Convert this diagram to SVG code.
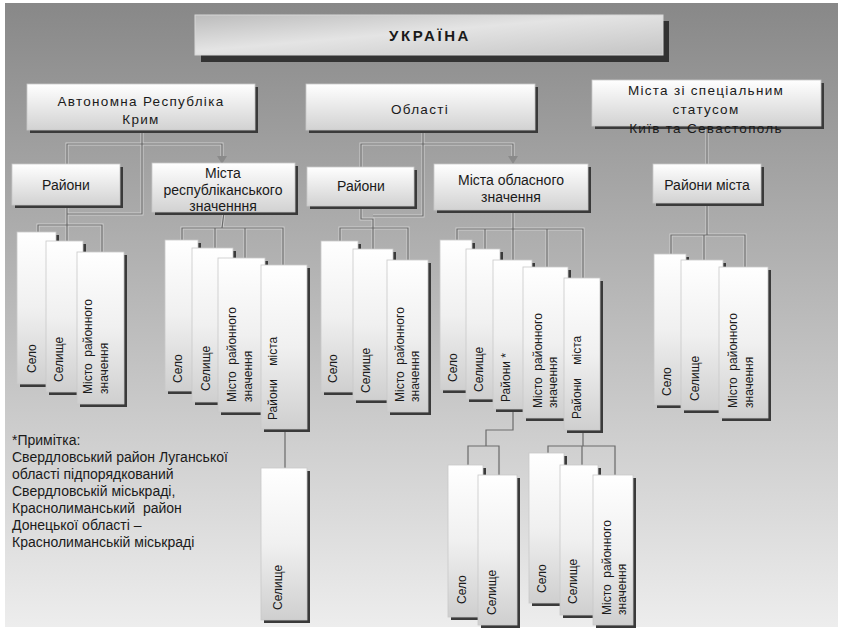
<svg xmlns="http://www.w3.org/2000/svg" width="843" height="630" viewBox="0 0 843 630">
<defs>
<linearGradient id="bg" x1="0" y1="0" x2="0" y2="1"><stop offset="0" stop-color="#888888"/><stop offset="1" stop-color="#ededed"/></linearGradient>
<linearGradient id="gbox" x1="0" y1="0" x2="0" y2="1"><stop offset="0" stop-color="#ffffff"/><stop offset="1" stop-color="#d2d2d2"/></linearGradient>
<linearGradient id="gleaf" x1="0" y1="0" x2="0" y2="1"><stop offset="0" stop-color="#ffffff"/><stop offset="0.5" stop-color="#f0f0f0"/><stop offset="1" stop-color="#cfcfcf"/></linearGradient>
<linearGradient id="gtitle" x1="0" y1="0" x2="1" y2="1"><stop offset="0" stop-color="#bcbcbc"/><stop offset="0.45" stop-color="#e4e4e4"/><stop offset="1" stop-color="#c4c4c4"/></linearGradient>
</defs>
<style>
.box{fill:url(#gbox);stroke:#c8c8c8;stroke-width:0.8}
.leaf{fill:url(#gleaf);stroke:#c8c8c8;stroke-width:0.8}
.sh{fill:#3a3a3a}
.t{font-family:"Liberation Sans",Arial,sans-serif;fill:#1a1a1a;white-space:pre}
.top{font-size:13.5px;letter-spacing:1.3px;text-anchor:middle}
.mid{font-size:14px;text-anchor:middle}
.lf{font-size:12px}
.note{font-size:14px}
.cl{fill:none;stroke:#d0d0d0;stroke-width:3}
.cd{fill:none;stroke:#6a6a6a;stroke-width:1.2}
.ar{fill:#8a8a8a}
</style>
<rect width="843" height="630" fill="#ffffff"/>
<rect x="5" y="3" width="833" height="624" fill="url(#bg)"/>

<g id="connectors">
<g class="cl">
<path d="M142,130 V214 H67"/>
<path d="M67,165 V144 H222 V158"/>
<path d="M67,205 V242"/>
<path d="M38,232 V225 H102 V252"/>
<path d="M224,212 L222,228"/>
<path d="M182,240 V228 H283 V265"/>
<path d="M215,228 V248 M245,228 V258"/>
<path d="M285,429 V468"/>
<path d="M361,167 V144 H513 V158"/>
<path d="M423,130 V216 H373"/>
<path d="M361,206 V219 H373 V249"/>
<path d="M340,241 V228 H408 V260"/>
<path d="M513,210 V260"/>
<path d="M457,240 V229 H583 V278"/>
<path d="M485,229 V249 M547,229 V267"/>
<path d="M513,409 V430 H486 V446"/>
<path d="M468,465 V446 H499 V475"/>
<path d="M583,430 V446"/>
<path d="M548,453 V446 H615 V475"/>
<path d="M582,446 V465"/>
<path d="M707,127 V164"/>
<path d="M707,203 V235"/>
<path d="M671,254 V235 H745 V267"/>
<path d="M704,235 V260"/>
</g>
<g class="cd">
<path d="M142,130 V214 H67"/>
<path d="M67,165 V144 H222 V158"/>
<path d="M67,205 V242"/>
<path d="M38,232 V225 H102 V252"/>
<path d="M224,212 L222,228"/>
<path d="M182,240 V228 H283 V265"/>
<path d="M215,228 V248 M245,228 V258"/>
<path d="M285,429 V468"/>
<path d="M361,167 V144 H513 V158"/>
<path d="M423,130 V216 H373"/>
<path d="M361,206 V219 H373 V249"/>
<path d="M340,241 V228 H408 V260"/>
<path d="M513,210 V260"/>
<path d="M457,240 V229 H583 V278"/>
<path d="M485,229 V249 M547,229 V267"/>
<path d="M513,409 V430 H486 V446"/>
<path d="M468,465 V446 H499 V475"/>
<path d="M583,430 V446"/>
<path d="M548,453 V446 H615 V475"/>
<path d="M582,446 V465"/>
<path d="M707,127 V164"/>
<path d="M707,203 V235"/>
<path d="M671,254 V235 H745 V267"/>
<path d="M704,235 V260"/>
</g>
<polygon class="ar" points="217,156 227,156 222,164"/>
<polygon class="ar" points="508,156 518,156 513,164"/>
</g>

<g id="ukraina">
<rect x="201" y="21" width="468" height="41" fill="#333333"/>
<rect x="195" y="15" width="468" height="40" fill="url(#gtitle)" stroke="#d8d8d8" stroke-width="1"/>
<text class="t" x="430" y="41" text-anchor="middle" font-size="15" font-weight="bold" letter-spacing="2.6">УКРАЇНА</text>
</g>

<g id="arc">
<rect class="sh" x="30" y="87" width="228" height="46"/>
<rect class="box" x="27" y="84" width="228" height="46"/>
<text class="t top" x="141" y="106">Автономна Республіка</text>
<text class="t top" x="141" y="124">Крим</text>
</g>
<g id="oblasti">
<rect class="sh" x="309" y="87" width="229" height="46"/>
<rect class="box" x="306" y="84" width="229" height="46"/>
<text class="t top" x="420" y="114">Області</text>
</g>
<g id="special">
<rect class="sh" x="595" y="83" width="229" height="46"/>
<rect class="box" x="592" y="80" width="229" height="46"/>
<text class="t top" x="706" y="95">Міста зі спеціальним</text>
<text class="t top" x="706" y="114">статусом</text>
<text class="t top" x="706" y="133">Київ та Севастополь</text>
</g>

<g id="raiony1">
<rect class="sh" x="15" y="167" width="108" height="41"/>
<rect class="box" x="12" y="164" width="108" height="41"/>
<text class="t mid" x="66" y="190">Райони</text>
</g>
<g id="mista-resp">
<rect class="sh" x="155" y="166" width="143" height="49"/>
<rect class="box" x="152" y="163" width="143" height="49"/>
<text class="t mid" x="223" y="178" font-size="13.5">Міста</text>
<text class="t mid" x="223" y="195" font-size="13.5">республіканського</text>
<text class="t mid" x="223" y="211" font-size="13.5">значенння</text>
</g>
<g id="raiony2">
<rect class="sh" x="310" y="170" width="107" height="39"/>
<rect class="box" x="307" y="167" width="107" height="39"/>
<text class="t mid" x="361" y="191">Райони</text>
</g>
<g id="mista-obl">
<rect class="sh" x="437" y="167" width="154" height="46"/>
<rect class="box" x="434" y="164" width="154" height="46"/>
<text class="t mid" x="511" y="185">Міста обласного</text>
<text class="t mid" x="511" y="202">значення</text>
</g>
<g id="raiony-mista3">
<rect class="sh" x="656" y="167" width="108" height="39"/>
<rect class="box" x="653" y="164" width="108" height="39"/>
<text class="t mid" x="707" y="190">Райони міста</text>
</g>

<g id="a-selo"><rect class="sh" x="20" y="235" width="39" height="152"/><rect class="leaf" x="17" y="232" width="39" height="152"/><text class="t lf" transform="translate(36,373) rotate(-90)">Село</text></g>
<g id="a-selyshche"><rect class="sh" x="49" y="244" width="37" height="151"/><rect class="leaf" x="46" y="241" width="37" height="151"/><text class="t lf" transform="translate(63,382) rotate(-90)">Селище</text></g>
<g id="a-misto"><rect class="sh" x="80" y="255" width="47" height="152"/><rect class="leaf" x="77" y="252" width="47" height="152"/><text class="t lf" transform="translate(92,394) rotate(-90)">Місто  районного<tspan x="0" dy="16">значення</tspan></text></g>

<g id="b-selo"><rect class="sh" x="168" y="243" width="33" height="151"/><rect class="leaf" x="165" y="240" width="33" height="151"/><text class="t lf" transform="translate(182,383) rotate(-90)">Село</text></g>
<g id="b-selyshche"><rect class="sh" x="195" y="251" width="41" height="154"/><rect class="leaf" x="192" y="248" width="41" height="154"/><text class="t lf" transform="translate(210,391) rotate(-90)">Селище</text></g>
<g id="b-misto"><rect class="sh" x="221" y="261" width="47" height="154"/><rect class="leaf" x="218" y="258" width="47" height="154"/><text class="t lf" transform="translate(236,402) rotate(-90)">Місто  районного<tspan x="0" dy="16">значення</tspan></text></g>
<g id="b-raiony-mista"><rect class="sh" x="264" y="268" width="46" height="164"/><rect class="leaf" x="261" y="265" width="46" height="164"/><text class="t lf" transform="translate(277,420) rotate(-90)">Райони    міста</text></g>
<g id="b-selyshche2"><rect class="sh" x="264" y="471" width="46" height="152"/><rect class="leaf" x="261" y="468" width="46" height="152"/><text class="t lf" transform="translate(282,610) rotate(-90)">Селище</text></g>

<g id="c-selo"><rect class="sh" x="324" y="244" width="37" height="151"/><rect class="leaf" x="321" y="241" width="37" height="151"/><text class="t lf" transform="translate(337,383) rotate(-90)">Село</text></g>
<g id="c-selyshche"><rect class="sh" x="356" y="252" width="40" height="151"/><rect class="leaf" x="353" y="249" width="40" height="151"/><text class="t lf" transform="translate(370,393) rotate(-90)">Селище</text></g>
<g id="c-misto"><rect class="sh" x="390" y="263" width="41" height="152"/><rect class="leaf" x="387" y="260" width="41" height="152"/><text class="t lf" transform="translate(404,402) rotate(-90)">Місто  районного<tspan x="0" dy="15">значення</tspan></text></g>

<g id="d-selo"><rect class="sh" x="443" y="243" width="32" height="150"/><rect class="leaf" x="440" y="240" width="32" height="150"/><text class="t lf" transform="translate(457,382) rotate(-90)">Село</text></g>
<g id="d-selyshche"><rect class="sh" x="469" y="252" width="34" height="150"/><rect class="leaf" x="466" y="249" width="34" height="150"/><text class="t lf" transform="translate(483,392) rotate(-90)">Селище</text></g>
<g id="d-raiony"><rect class="sh" x="496" y="263" width="39" height="149"/><rect class="leaf" x="493" y="260" width="39" height="149"/><text class="t lf" transform="translate(510,402) rotate(-90)">Райони *</text></g>
<g id="d-misto"><rect class="sh" x="526" y="270" width="45" height="151"/><rect class="leaf" x="523" y="267" width="45" height="151"/><text class="t lf" transform="translate(542,408) rotate(-90)">Місто  районного<tspan x="0" dy="15">значення</tspan></text></g>
<g id="d-raiony-mista"><rect class="sh" x="567" y="281" width="36" height="152"/><rect class="leaf" x="564" y="278" width="36" height="152"/><text class="t lf" transform="translate(581,419) rotate(-90)">Райони    міста</text></g>

<g id="e-selo"><rect class="sh" x="451" y="468" width="35" height="152"/><rect class="leaf" x="448" y="465" width="35" height="152"/><text class="t lf" transform="translate(466,604) rotate(-90)">Село</text></g>
<g id="e-selyshche"><rect class="sh" x="481" y="478" width="39" height="150"/><rect class="leaf" x="478" y="475" width="39" height="150"/><text class="t lf" transform="translate(496,615) rotate(-90)">Селище</text></g>
<g id="f-selo"><rect class="sh" x="532" y="456" width="35" height="150"/><rect class="leaf" x="529" y="453" width="35" height="150"/><text class="t lf" transform="translate(546,593) rotate(-90)">Село</text></g>
<g id="f-selyshche"><rect class="sh" x="563" y="468" width="38" height="150"/><rect class="leaf" x="560" y="465" width="38" height="150"/><text class="t lf" transform="translate(577,604) rotate(-90)">Селище</text></g>
<g id="f-misto"><rect class="sh" x="596" y="478" width="40" height="150"/><rect class="leaf" x="593" y="475" width="40" height="150"/><text class="t lf" transform="translate(611,615) rotate(-90)">Місто  районного<tspan x="0" dy="15">значення</tspan></text></g>

<g id="g-selo"><rect class="sh" x="657" y="257" width="32" height="151"/><rect class="leaf" x="654" y="254" width="32" height="151"/><text class="t lf" transform="translate(671,396) rotate(-90)">Село</text></g>
<g id="g-selyshche"><rect class="sh" x="684" y="263" width="42" height="150"/><rect class="leaf" x="681" y="260" width="42" height="150"/><text class="t lf" transform="translate(699,401) rotate(-90)">Селище</text></g>
<g id="g-misto"><rect class="sh" x="722" y="270" width="49" height="151"/><rect class="leaf" x="719" y="267" width="49" height="151"/><text class="t lf" transform="translate(737,408) rotate(-90)">Місто  районного<tspan x="0" dy="16">значення</tspan></text></g>

<g id="note">
<text class="t note" x="12" y="445">*Примітка:</text>
<text class="t note" x="12" y="462">Свердловський район Луганської</text>
<text class="t note" x="12" y="479">області підпорядкований</text>
<text class="t note" x="12" y="496">Свердловській міськраді,</text>
<text class="t note" x="12" y="513">Краснолиманський  район</text>
<text class="t note" x="12" y="530">Донецької області –</text>
<text class="t note" x="12" y="547">Краснолиманській міськраді</text>
</g>
</svg>
